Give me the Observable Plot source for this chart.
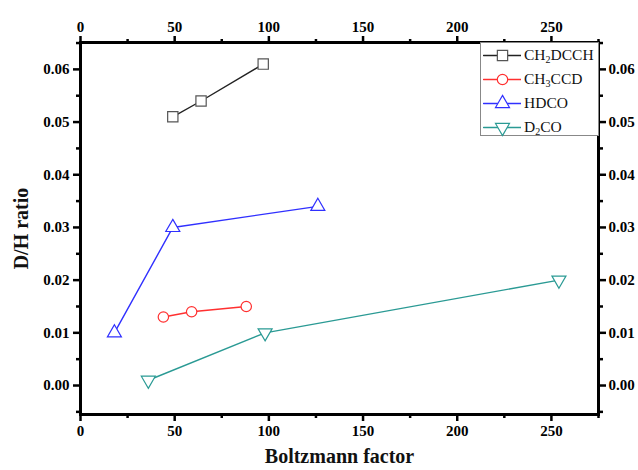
<!DOCTYPE html>
<html><head><meta charset="utf-8">
<script src="https://cdn.jsdelivr.net/npm/d3@7"></script>
<script src="https://cdn.jsdelivr.net/npm/@observablehq/plot@0.6"></script>
<style>
body{margin:0;background:#fff;}
#wrap{position:relative;width:638px;height:470px;}
#legend{position:absolute;left:480px;top:42px;width:119px;height:94px;border:1px solid #888;box-sizing:border-box;background:#fff;font-family:"Liberation Serif",serif;font-size:15.5px;color:#111;}
.row{position:absolute;left:2px;height:22px;display:flex;align-items:center;}
.row svg{margin-right:3px;}
sub{font-size:10px;vertical-align:-3px;}
</style></head><body>
<div id="wrap"></div>
<script>
const seriesNames = ["CH2DCCH","CH3CCD","HDCO","D2CO"];
const ch2dcchX = [49, 64, 97];
const ch2dcchY = [0.051, 0.054, 0.061];
const ch3ccdX = [44, 59, 88];
const ch3ccdY = [0.013, 0.014, 0.015];
const hdcoX = [18, 49, 126];
const hdcoY = [0.010, 0.030, 0.034];
const d2coX = [36, 98, 254];
const d2coY = [0.001, 0.010, 0.020];
const xTicks = [0, 50, 100, 150, 200, 250];
const yTicks = [0, 0.01, 0.02, 0.03, 0.04, 0.05, 0.06];
const xMinor = [25, 75, 125, 175, 225, 275];
const yMinor = [-0.005, 0.005, 0.015, 0.025, 0.035, 0.045, 0.055, 0.065];

const colors = {CH2DCCH:"#222", CH3CCD:"#ff3030", HDCO:"#3030ff", D2CO:"#2a9a94"};
const markerStroke = {CH2DCCH:"#555", CH3CCD:"#ff3030", HDCO:"#3030ff", D2CO:"#2a9a94"};
const sqrt3 = Math.sqrt(3);
const triDown = {draw(ctx, size){const y = -Math.sqrt(size/(sqrt3*3)); ctx.moveTo(0,-y*2); ctx.lineTo(-sqrt3*y, y); ctx.lineTo(sqrt3*y, y); ctx.closePath();}};
const triUp = {draw(ctx, size){const y = -Math.sqrt(size/(sqrt3*3)); ctx.moveTo(0,y*2); ctx.lineTo(-sqrt3*y, -y); ctx.lineTo(sqrt3*y, -y); ctx.closePath();}};
const symbols = {CH2DCCH:"square", CH3CCD:"circle", HDCO:triUp, D2CO:triDown};
const radii = {CH2DCCH:5.8, CH3CCD:5.2, HDCO:5.2, D2CO:5.2};

const raw = [[ch2dcchX,ch2dcchY],[ch3ccdX,ch3ccdY],[hdcoX,hdcoY],[d2coX,d2coY]];
const data = [];
raw.forEach(([xs,ys],i)=>xs.forEach((x,j)=>data.push({s:seriesNames[i], x, y:ys[j]})));

const font = {fontFamily:"Liberation Serif", fontWeight:"bold", fontSize:15};
const marks = [];
for (const s of seriesNames) {
  const d = data.filter(r=>r.s===s);
  marks.push(Plot.line(d, {x:"x", y:"y", stroke:colors[s], strokeWidth:1.4}));
  marks.push(Plot.dot(d, {x:"x", y:"y", symbol:symbols[s], r:radii[s], stroke:markerStroke[s], fill:"white", strokeWidth:1.2}));
}
const yMinorIn = yMinor.filter(v=>v>-0.0055&&v<0.0651);
const chart = Plot.plot({
  width:638, height:470,
  marginLeft:80, marginRight:40, marginTop:42, marginBottom:56,
  style:{fontFamily:"Liberation Serif", background:"white"},
  x:{domain:[0,275]},
  y:{domain:[-0.0055,0.0651]},
  marks:[
    ...marks,
    Plot.frame({stroke:"black", strokeWidth:3}),
    Plot.axisX({anchor:"bottom", ticks:xTicks, tickSize:7, tickPadding:4, strokeWidth:2.5, label:null, ...font}),
    Plot.axisX({anchor:"top", ticks:xTicks, tickSize:7, tickPadding:4, strokeWidth:2.5, label:null, ...font}),
    Plot.axisX({anchor:"bottom", ticks:xMinor, tickSize:4, text:null, strokeWidth:2.5, label:null}),
    Plot.axisX({anchor:"top", ticks:xMinor, tickSize:4, text:null, strokeWidth:2.5, label:null}),
    Plot.axisY({anchor:"left", ticks:yTicks, tickSize:7, tickPadding:4, strokeWidth:2.5, tickFormat:d3.format(".2f"), label:null, ...font}),
    Plot.axisY({anchor:"right", ticks:yTicks, tickSize:7, tickPadding:3, strokeWidth:2.5, tickFormat:d3.format(".2f"), label:null, ...font}),
    Plot.axisY({anchor:"left", ticks:yMinorIn, tickSize:4, text:null, strokeWidth:2.5, label:null}),
    Plot.axisY({anchor:"right", ticks:yMinorIn, tickSize:4, text:null, strokeWidth:2.5, label:null}),
    Plot.text(["Boltzmann factor"], {frameAnchor:"bottom", dy:48, textAnchor:"middle", fontSize:20, fontWeight:"bold", fontFamily:"Liberation Serif", fill:"#111"}),
    Plot.text(["D/H ratio"], {frameAnchor:"left", dx:-59, textAnchor:"middle", rotate:-90, fontSize:20, fontWeight:"bold", fontFamily:"Liberation Serif", fill:"#111"})
  ]
});
const wrap = document.getElementById("wrap");
wrap.appendChild(chart);

const legend = document.createElement("div");
legend.id = "legend";
const labels = {CH2DCCH:"CH<sub>2</sub>DCCH", CH3CCD:"CH<sub>3</sub>CCD", HDCO:"HDCO", D2CO:"D<sub>2</sub>CO"};
seriesNames.forEach((s,i)=>{
  const row = document.createElement("div");
  row.className="row";
  row.style.top = (1 + i*24) + "px";
  const sw = Plot.plot({width:38, height:20, margin:0, axis:null, x:{domain:[0,1]}, y:{domain:[0,1]},
    marks:[Plot.line([{x:0,y:0.5},{x:1,y:0.5}],{x:"x",y:"y",stroke:colors[s],strokeWidth:1.4}),
           Plot.dot([{x:0.5,y:0.5}],{x:"x",y:"y",symbol:symbols[s],r:radii[s],stroke:markerStroke[s],fill:"white",strokeWidth:1.2})]});
  row.appendChild(sw);
  const t = document.createElement("span");
  t.innerHTML = labels[s];
  row.appendChild(t);
  legend.appendChild(row);
});
wrap.appendChild(legend);
</script>
</body></html>
